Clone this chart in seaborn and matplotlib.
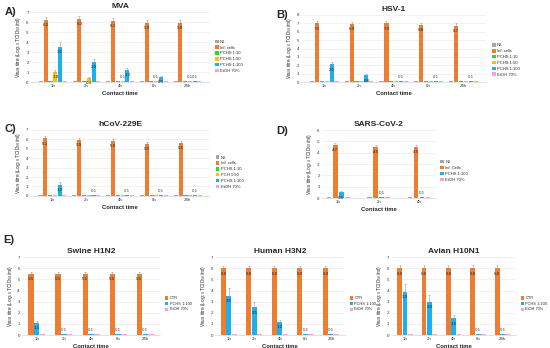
import pandas as pd
import matplotlib.pyplot as plt
import seaborn as sns

sns.set_style("white")
plt.rcParams["font.family"] = ["Liberation Sans", "DejaVu Sans"]

# data (log10 TCID50/ml)
times5 = ["1h", "2h", "4h", "8h", "24h"]
times3 = ["1h", "2h", "4h"]

mva_groups = ["N.I.", "Inf. cells", "PCHS 1:10", "PCHS 1:50", "PCHS 1:100", "EtOH 70%"]
mva_ni = [0.1, 0.1, 0.1, 0.1, 0.1]
mva_inf = [6.2, 6.3, 6.1, 5.9, 5.9]
mva_p10 = [0.1, 0.1, 0.1, 0.1, 0.1]
mva_p50 = [1.0, 0.4, 0.1, 0.1, 0.1]
mva_p100 = [3.5, 2.0, 1.2, 0.5, 0.1]
mva_etoh = [0.1, 0.1, 0.1, 0.1, 0.1]
mva_inf_err = [0.3, 0.3, 0.3, 0.3, 0.3]
mva_p50_err = [0.25, 0.1, 0.0, 0.0, 0.0]
mva_p100_err = [0.55, 0.3, 0.2, 0.1, 0.0]

hsv_groups = ["N.I.", "Inf. cells", "PCHS 1:10", "PCHS 1:50", "PCHS 1:100", "EtOH 70%"]
hsv_ni = [0.1, 0.1, 0.1, 0.1, 0.1]
hsv_inf = [7.0, 6.9, 7.0, 6.8, 6.7]
hsv_p10 = [0.1, 0.1, 0.1, 0.1, 0.1]
hsv_p50 = [0.1, 0.1, 0.1, 0.1, 0.1]
hsv_p100 = [2.1, 0.8, 0.1, 0.1, 0.1]
hsv_etoh = [0.1, 0.1, 0.1, 0.1, 0.1]
hsv_inf_err = [0.3, 0.3, 0.3, 0.3, 0.3]
hsv_p100_err = [0.3, 0.15, 0.0, 0.0, 0.0]

cov_groups = ["N.I.", "Inf. cells", "PCHS 1:10", "PCH 1:50", "PCHS 1:100", "EtOH 70%"]
cov_ni = [0.1, 0.1, 0.1, 0.1, 0.1]
cov_inf = [6.1, 5.9, 5.8, 5.5, 5.6]
cov_p10 = [0.1, 0.1, 0.1, 0.1, 0.1]
cov_p50 = [0.1, 0.1, 0.1, 0.1, 0.1]
cov_p100 = [1.2, 0.1, 0.1, 0.1, 0.1]
cov_etoh = [0.1, 0.1, 0.1, 0.1, 0.1]
cov_inf_err = [0.25, 0.25, 0.25, 0.25, 0.25]
cov_p100_err = [0.25, 0.0, 0.0, 0.0, 0.0]

sars_groups = ["N.I.", "Inf. Cells", "PCHS 1:100", "EtOH 70%"]
sars_ni = [0.1, 0.1, 0.1]
sars_inf = [4.7, 4.5, 4.5]
sars_p100 = [0.5, 0.1, 0.1]
sars_etoh = [0.1, 0.1, 0.1]
sars_inf_err = [0.2, 0.2, 0.2]
sars_p100_err = [0.1, 0.0, 0.0]

flu_groups = ["CTR", "PCHS 1:100", "EtOH 70%"]
swine_ctr = [5.5, 5.5, 5.5, 5.5, 5.5]
swine_p100 = [1.1, 0.1, 0.1, 0.1, 0.1]
swine_etoh = [0.1, 0.1, 0.1, 0.1, 0.1]
swine_ctr_err = [0.2, 0.2, 0.2, 0.2, 0.2]
swine_p100_err = [0.2, 0.0, 0.0, 0.0, 0.0]
human_ctr = [6.0, 6.0, 6.0, 6.0, 6.0]
human_p100 = [3.5, 2.5, 1.2, 0.1, 0.1]
human_etoh = [0.1, 0.1, 0.1, 0.1, 0.1]
human_ctr_err = [0.25, 0.25, 0.25, 0.25, 0.25]
human_p100_err = [0.7, 0.5, 0.2, 0.0, 0.0]
avian_ctr = [6.0, 6.0, 6.0, 6.0, 6.0]
avian_p100 = [3.9, 3.0, 1.5, 0.1, 0.1]
avian_etoh = [0.1, 0.1, 0.1, 0.1, 0.1]
avian_ctr_err = [0.3, 0.3, 0.3, 0.3, 0.3]
avian_p100_err = [0.7, 0.6, 0.3, 0.0, 0.0]

col = {"N.I.": "#a6a6a6", "Inf. cells": "#ed7d31", "Inf. Cells": "#ed7d31", "CTR": "#ed7d31",
       "PCHS 1:10": "#22dd22", "PCHS 1:50": "#ffc000", "PCH 1:50": "#ffc000",
       "PCHS 1:100": "#1cb0ee", "EtOH 70%": "#ff9fd0"}

ylab = "Virus titre (Log$_{10}$ TCID$_{50}$/ml)"


def panel(rect, title, times, groups, series, errs, labeled, ymax, leg_y,
          width=0.85, gap=0.15, fs=3.2, leg_fs=3):
    ax = fig.add_axes(rect)
    rows = []
    for g, vals in zip(groups, series):
        for t, v in zip(times, vals):
            rows.append({"time": t, "group": g, "value": v})
    df = pd.DataFrame(rows)
    sns.barplot(data=df, x="time", y="value", hue="group", hue_order=groups,
                palette=[col[g] for g in groups], gap=gap, width=width,
                saturation=1, linewidth=0, errorbar=None, ax=ax)
    conts = list(ax.containers)
    for gi, cont in enumerate(conts):
        g = groups[gi]
        for j, p in enumerate(cont.patches):
            x = p.get_x() + p.get_width() / 2
            h = p.get_height()
            if g in errs and errs[g][j] > 0:
                ax.errorbar(x, h, yerr=[[0], [errs[g][j]]], fmt="none",
                            ecolor="#999999", elinewidth=0.4, capsize=0.7, capthick=0.4)
            if g in labeled:
                if h >= 0.4:
                    ax.annotate(f"{h:.1f}", (x, h), xytext=(0, -3.8), textcoords="offset points",
                                ha="center", va="center", fontsize=fs, color="#222222")
                else:
                    ax.annotate(f"{h:.1f}", (x, h), xytext=(0, 2.8), textcoords="offset points",
                                ha="center", va="center", fontsize=fs, color="#444444")
    ax.set_ylim(0, ymax)
    ax.set_yticks(range(0, ymax + 1))
    ax.yaxis.grid(True, color="#e6e6e6", linewidth=0.4)
    ax.set_axisbelow(True)
    for s in ["top", "right", "left"]:
        ax.spines[s].set_visible(False)
    ax.spines["bottom"].set_color("#cccccc")
    ax.spines["bottom"].set_linewidth(0.4)
    ax.tick_params(axis="both", labelsize=3.2, length=0, pad=1.5, colors="#333333")
    ax.set_xlabel("Contact time", fontsize=4.2, fontweight="bold", labelpad=2)
    ax.set_ylabel(ylab, fontsize=3.4, labelpad=2)
    ax.set_title(title, fontsize=6, fontweight="bold", pad=3)
    sns.move_legend(ax, "center left", bbox_to_anchor=(1.01, leg_y), frameon=False,
                    title=None, fontsize=leg_fs, handlelength=0.9, handleheight=0.9,
                    handletextpad=0.3, labelspacing=0.4)
    return ax


fig = plt.figure(figsize=(5.5, 3.48), dpi=100)

panel([0.056, 0.764, 0.325, 0.201], "MVA", times5, mva_groups,
      [mva_ni, mva_inf, mva_p10, mva_p50, mva_p100, mva_etoh],
      {"Inf. cells": mva_inf_err, "PCHS 1:50": mva_p50_err, "PCHS 1:100": mva_p100_err},
      ["Inf. cells", "PCHS 1:50", "PCHS 1:100"], 7, 0.37)

panel([0.548, 0.764, 0.336, 0.193], "HSV-1", times5, hsv_groups,
      [hsv_ni, hsv_inf, hsv_p10, hsv_p50, hsv_p100, hsv_etoh],
      {"Inf. cells": hsv_inf_err, "PCHS 1:100": hsv_p100_err},
      ["Inf. cells", "PCHS 1:100"], 8, 0.33)

panel([0.055, 0.437, 0.327, 0.19], "hCoV-229E", times5, cov_groups,
      [cov_ni, cov_inf, cov_p10, cov_p50, cov_p100, cov_etoh],
      {"Inf. cells": cov_inf_err, "PCHS 1:100": cov_p100_err},
      ["Inf. cells", "PCHS 1:100"], 7, 0.36)

panel([0.585, 0.431, 0.207, 0.195], "SARS-CoV-2", times3, sars_groups,
      [sars_ni, sars_inf, sars_p100, sars_etoh],
      {"Inf. Cells": sars_inf_err, "PCHS 1:100": sars_p100_err},
      ["Inf. Cells", "PCHS 1:100"], 6, 0.4, width=0.6, gap=0.25)

panel([0.04, 0.037, 0.251, 0.224], "Swine H1N2", times5, flu_groups,
      [swine_ctr, swine_p100, swine_etoh],
      {"CTR": swine_ctr_err, "PCHS 1:100": swine_p100_err},
      ["CTR", "PCHS 1:100"], 7, 0.4, width=0.65, gap=0.1, leg_fs=2.8)

panel([0.391, 0.037, 0.236, 0.224], "Human H3N2", times5, flu_groups,
      [human_ctr, human_p100, human_etoh],
      {"CTR": human_ctr_err, "PCHS 1:100": human_p100_err},
      ["CTR", "PCHS 1:100"], 7, 0.4, width=0.65, gap=0.1, leg_fs=2.8)

panel([0.712, 0.037, 0.226, 0.224], "Avian H10N1", times5, flu_groups,
      [avian_ctr, avian_p100, avian_etoh],
      {"CTR": avian_ctr_err, "PCHS 1:100": avian_p100_err},
      ["CTR", "PCHS 1:100"], 7, 0.4, width=0.65, gap=0.1, leg_fs=2.8)

for lab, x, y in [("A)", 0.008, 0.965), ("B)", 0.503, 0.957), ("C)", 0.008, 0.63),
                  ("D)", 0.503, 0.625), ("E)", 0.005, 0.31)]:
    fig.text(x, y, lab, fontsize=8, fontweight="bold", va="center")

fig.savefig("out.png", dpi=100)
